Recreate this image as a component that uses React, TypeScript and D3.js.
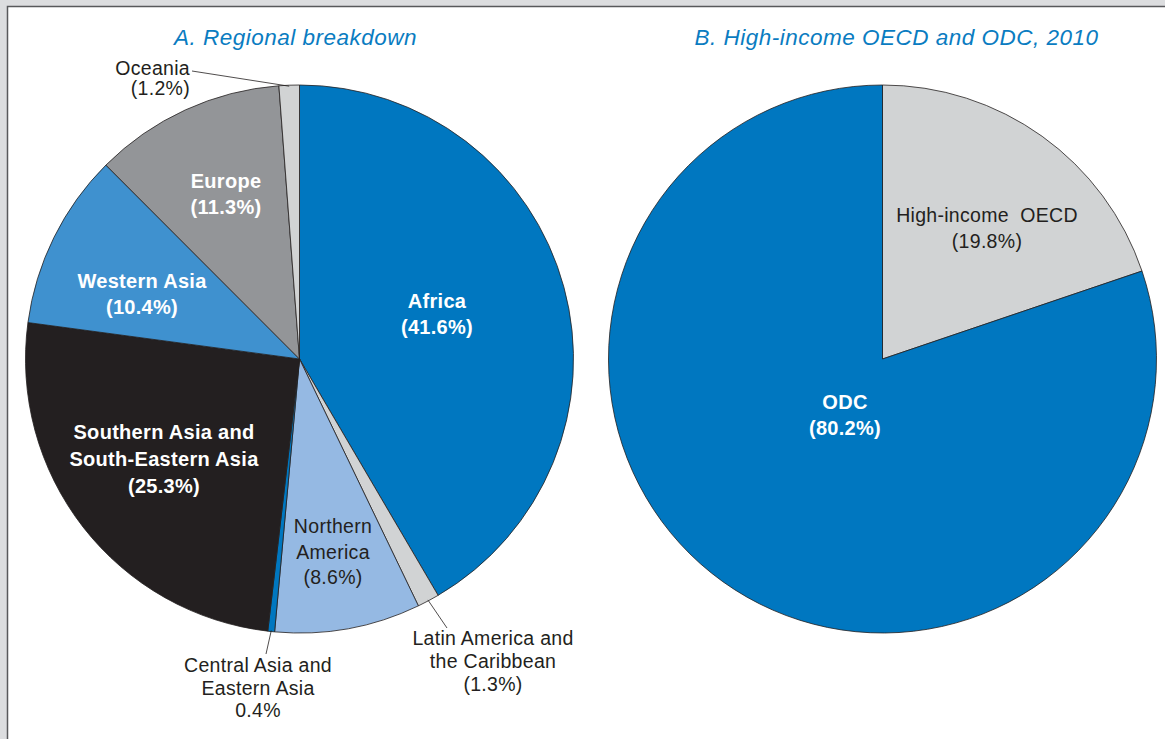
import React from 'react'
import * as d3 from 'd3'

// ---- data ----
const regions = ['Africa', 'Latin America and the Caribbean', 'Northern America', 'Central Asia and Eastern Asia',
  'Southern Asia and South-Eastern Asia', 'Western Asia', 'Europe', 'Oceania']
const regionShares = [41.6, 1.3, 8.6, 0.4, 25.3, 10.4, 11.3, 1.2]
const regionColors = ['#0077c0', '#d1d3d4', '#95b9e3', '#0077c0', '#231f20', '#3f91cf', '#939598', '#d1d3d4']

const groups = ['High-income OECD', 'ODC']
const groupShares = [19.8, 80.2]
const groupColors = ['#d1d3d4', '#0077c0']

// label text for each slice (lines), plus where it sits
const regionLabels = [
  { lines: ['Africa', '(41.6%)'], x: 437, y: 308, bold: true, lh: 26 },
  { lines: ['Latin America and', 'the Caribbean', '(1.3%)'], x: 493, y: 645, bold: false, lh: 23, leader: [447, 628] },
  { lines: ['Northern', 'America', '(8.6%)'], x: 333, y: 533, bold: false, lh: 25.5 },
  { lines: ['Central Asia and', 'Eastern Asia', '0.4%'], x: 258, y: 672, bold: false, lh: 22.5, leader: [266, 654] },
  { lines: ['Southern Asia and', 'South-Eastern Asia', '(25.3%)'], x: 164, y: 439, bold: true, lh: 27 },
  { lines: ['Western Asia', '(10.4%)'], x: 142, y: 288, bold: true, lh: 25.5 },
  { lines: ['Europe', '(11.3%)'], x: 226, y: 188, bold: true, lh: 26 },
  { lines: ['Oceania', '(1.2%)'], x: 190, y: 75, bold: false, lh: 20, anchor: 'end', leader: [192, 71] },
]
const groupLabels = [
  { lines: ['High-income  OECD', '(19.8%)'], x: 987, y: 222, bold: false, lh: 25.5 },
  { lines: ['ODC', '(80.2%)'], x: 845, y: 409, bold: true, lh: 26 },
]

const W = 1165, H = 739
const R = 274
const FONT = '"Liberation Sans", Arial, Helvetica, sans-serif'

function Pie(props) {
  const { cx, cy, values, colors, labels } = props
  const pie = d3.pie().sort(null).value(d => d)
  const arcs = pie(values)
  const arc = d3.arc().innerRadius(0).outerRadius(R)

  return (
    <g>
      <g transform={'translate(' + cx + ',' + cy + ')'}>
        {arcs.map((a, i) => (
          <path key={i} d={arc(a)} fill={colors[i]} stroke="#231f20" strokeWidth={0.8} strokeLinejoin="round" />
        ))}
      </g>
      {arcs.map((a, i) => {
        const lab = labels[i]
        if (!lab || !lab.leader) return null
        const mid = (a.startAngle + a.endAngle) / 2
        const x0 = cx + (R - 1) * Math.sin(mid)
        const y0 = cy - (R - 1) * Math.cos(mid)
        return <line key={'l' + i} x1={x0} y1={y0} x2={lab.leader[0]} y2={lab.leader[1]} stroke="#231f20" strokeWidth={0.8} />
      })}
      {labels.map((lab, i) => (
        <text key={'t' + i} x={lab.x} y={lab.y} textAnchor={lab.anchor || 'middle'}
          fontFamily={FONT} fontSize={lab.bold ? 20 : 19.5} fontWeight={lab.bold ? 'bold' : 'normal'}
          letterSpacing={0.3}
          fill={lab.bold ? '#ffffff' : '#231f20'}>
          {lab.lines.map((s, j) => (
            <tspan key={j} x={lab.x} y={lab.y + j * lab.lh} style={{ whiteSpace: 'pre' }}>{s}</tspan>
          ))}
        </text>
      ))}
    </g>
  )
}

export default function App() {
  return (
    <svg width={W} height={H} style={{ position: 'absolute', left: 0, top: 0 }}>
      <rect x={0} y={0} width={W} height={H} fill="#dcdddf" />
      <rect x={7.5} y={6.5} width={W + 20} height={H + 20} fill="#ffffff" stroke="#58595b" strokeWidth={1.5} />
      <text x={295.5} y={45} textAnchor="middle" fontFamily={FONT} fontSize={22.5} letterSpacing={0.5}
        fontStyle="italic" fill="#0a7cc1">
        A. Regional breakdown
      </text>
      <text x={896.5} y={45} textAnchor="middle" fontFamily={FONT} fontSize={22.5} letterSpacing={0.5}
        fontStyle="italic" fill="#0a7cc1">
        B. High-income OECD and ODC, 2010
      </text>
      <Pie cx={299.5} cy={359} values={regionShares} colors={regionColors} labels={regionLabels} />
      <Pie cx={882.5} cy={359} values={groupShares} colors={groupColors} labels={groupLabels} />
    </svg>
  )
}
